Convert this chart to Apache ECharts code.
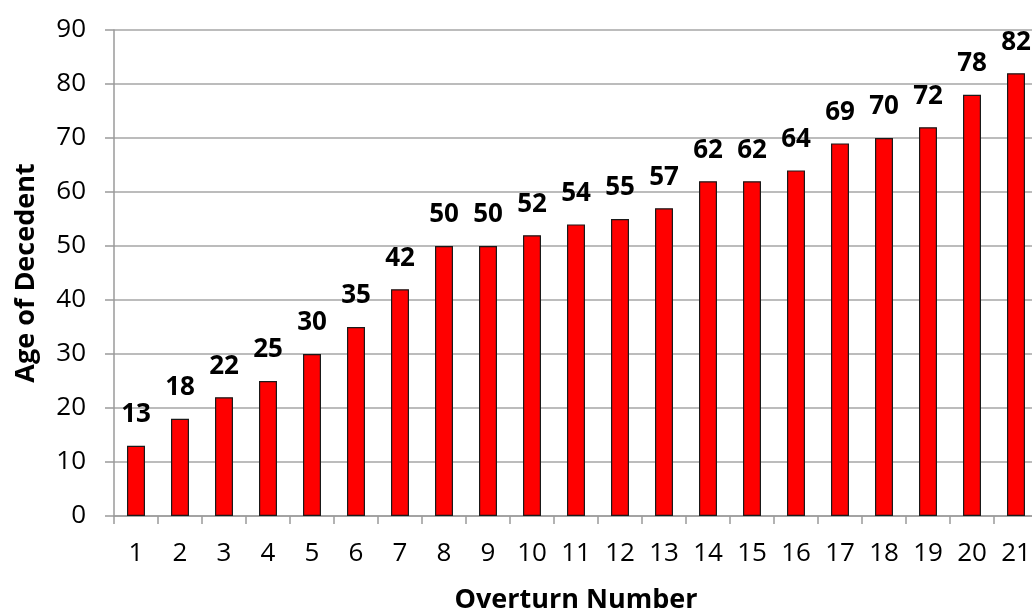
<!DOCTYPE html>
<html>
<head>
<meta charset="utf-8">
<script src="https://cdn.jsdelivr.net/npm/echarts@6/dist/echarts.min.js"></script>
<style>
html,body{margin:0;padding:0;background:#fff;}
#chart{width:1032px;height:614px;}
</style>
</head>
<body>
<div id="chart"></div>
<script>
const categories = ['1','2','3','4','5','6','7','8','9','10','11','12','13','14','15','16','17','18','19','20','21'];
const ages = [13,18,22,25,30,35,42,50,50,52,54,55,57,62,62,64,69,70,72,78,82];
const xTitle = 'Overturn Number';
const yTitle = 'Age of Decedent';

const FONT = '"Open Sans", sans-serif';
const chart = echarts.init(document.getElementById('chart'));
chart.setOption({
  animation: false,
  backgroundColor: '#fff',
  textStyle: { fontFamily: FONT },
  grid: { left: 114, top: 30, width: 924, height: 486, containLabel: false, outerBoundsMode: 'none' },
  xAxis: {
    type: 'category',
    data: categories,
    name: xTitle,
    nameLocation: 'middle',
    nameGap: 71,
    nameTextStyle: { fontFamily: FONT, fontSize: 27, fontWeight: 'bold', color: '#000' },
    axisLine: { lineStyle: { color: '#9a9a9a', width: 1.5 } },
    axisTick: { show: true, alignWithLabel: false, length: 8, lineStyle: { color: '#9a9a9a', width: 1.5 } },
    axisLabel: { margin: 25, fontFamily: FONT, fontSize: 26, color: '#000' }
  },
  yAxis: {
    type: 'value',
    min: 0, max: 90, interval: 10,
    name: yTitle,
    nameLocation: 'middle',
    nameGap: 74,
    nameRotate: 90,
    nameTextStyle: { fontFamily: FONT, fontSize: 27, fontWeight: 'bold', color: '#000' },
    axisLine: { show: true, lineStyle: { color: '#9a9a9a', width: 1.5 } },
    axisTick: { show: true, length: 9, lineStyle: { color: '#9a9a9a', width: 1.5 } },
    axisLabel: { margin: 28, fontFamily: FONT, fontSize: 26, color: '#000' },
    splitLine: { show: true, lineStyle: { color: '#a6a6a6', width: 1.5 } }
  },
  series: [{
    type: 'bar',
    data: ages,
    barWidth: 18,
    itemStyle: { color: '#ff0000', borderColor: '#1a1a1a', borderWidth: 1.2 },
    label: {
      show: true,
      position: 'top',
      distance: 18,
      fontFamily: FONT,
      fontSize: 26,
      fontWeight: 'bold',
      color: '#000'
    }
  }]
});
</script>
</body>
</html>
